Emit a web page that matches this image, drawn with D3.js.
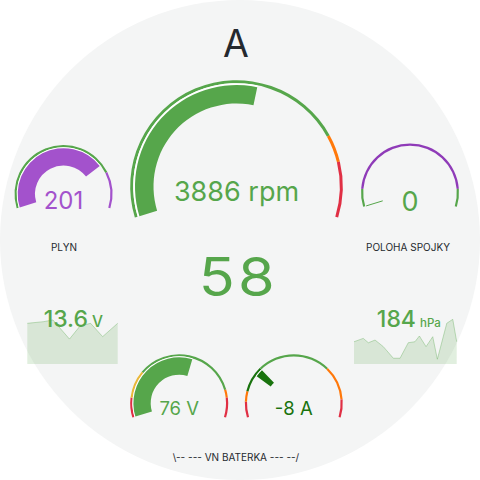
<!DOCTYPE html>
<html><head><meta charset="utf-8">
<script src="https://cdn.jsdelivr.net/npm/d3@7"></script>
<style>html,body{margin:0;padding:0;background:#fff;} svg{display:block;font-family:Inter,"Noto Sans",sans-serif;}</style>
</head><body><svg id="chart" width="480" height="480"></svg>
<script>
// ---------------- data ----------------
const titleText = "A";
const centerStatValue = 58;

const rpmValue = 3886, rpmUnit = "rpm";
const rpmRange = [0, 7000];
const rpmThresholds = [0, 5500, 6000];
const rpmColors = ["#56a64b", "#ff780a", "#e02f44"];

const plynLabel = "PLYN", plynValue = 201;
const plynRange = [0, 270];
const plynThresholds = [0, 215];
const plynColors = ["#56a64b", "#a352cc"];

const spojkaLabel = "POLOHA SPOJKY", spojkaValue = 0;
const spojkaRange = [0, 100];
const spojkaThresholds = [0, 10, 90];
const spojkaColors = ["#56a64b", "#8f3bb8", "#56a64b"];

const voltValue = 76, voltUnit = "V";
const voltRange = [50, 95];
const voltThresholds = [50, 55, 62, 88, 90];
const voltColors = ["#e02f44", "#eab839", "#56a64b", "#ff780a", "#e02f44"];

const ampValue = -8, ampUnit = "A";
const ampRange = [-50, 120];
const ampThresholds = [-50, -35, -25, 0, 70, 103];
const ampColors = ["#e02f44", "#ff780a", "#19730e", "#56a64b", "#ff780a", "#e02f44"];

const batteryLabel = "\\-- --- VN BATERKA --- --/";

const lvValue = 13.6, lvUnit = "V";
const lvTimes  = [0, 11, 17, 28, 35, 42, 50, 60];
const lvValues = [13.58, 13.65, 13.72, 12.93, 13.47, 13.58, 13.03, 13.58];

const presValue = 184, presUnit = "hPa";
const presTimes  = [0, 5.4, 8.4, 12.3, 17.1, 23, 26.9, 31.7, 35.6, 38.2, 42.1, 46, 48.7, 54.2, 57.7, 60];
const presValues = [183.9, 186.3, 183.2, 185.1, 180.4, 172.1, 172.1, 183.2, 183.9, 188.0, 180.4, 187.5, 171.4, 197.1, 199.9, 183.9];

// ---------------- drawing ----------------
const svg = d3.select("#chart");
const TEXT = "#24292e";
const SWEEP = 107 * Math.PI / 180;

svg.append("circle").attr("cx", 240).attr("cy", 240).attr("r", 240).attr("fill", "#f4f5f5");

svg.append("text").attr("x", 236).attr("y", 56.5).attr("text-anchor", "middle")
  .attr("font-size", 37.5).attr("fill", TEXT).text(titleText);

function drawGauge(cfg) {
  const g = svg.append("g").attr("transform", `translate(${cfg.cx},${cfg.cy})`);
  const ang = d3.scaleLinear().domain(cfg.range).range([-SWEEP, SWEEP]).clamp(true);
  const arc = d3.arc();
  const r = cfg.r;
  cfg.thresholds.forEach((t, i) => {
    const from = Math.max(t, cfg.range[0]);
    const to = i + 1 < cfg.thresholds.length ? cfg.thresholds[i + 1] : cfg.range[1];
    g.append("path")
      .attr("d", arc({innerRadius: r.thinIn, outerRadius: r.thinOut, startAngle: ang(from), endAngle: ang(to)}))
      .attr("fill", cfg.colors[i]);
  });
  const base = cfg.neutral !== undefined ? cfg.neutral : cfg.range[0];
  const s = Math.min(ang(base), ang(cfg.value)), e = Math.max(ang(base), ang(cfg.value));
  if (e - s > 0.002) {
    g.append("path")
      .attr("d", arc({innerRadius: r.barOut, outerRadius: r.thinIn, startAngle: s, endAngle: e}))
      .attr("fill", "#ffffff");
    g.append("path")
      .attr("d", arc({innerRadius: r.barIn, outerRadius: r.barOut, startAngle: s, endAngle: e}))
      .attr("fill", cfg.barColor);
  } else {
    g.append("line")
      .attr("x1", r.barIn * Math.sin(s)).attr("y1", -r.barIn * Math.cos(s))
      .attr("x2", r.barOut * Math.sin(s)).attr("y2", -r.barOut * Math.cos(s))
      .attr("stroke", cfg.barColor).attr("stroke-width", 1);
  }
  g.append("text").attr("x", cfg.textDx || 0).attr("y", cfg.textDy)
    .attr("text-anchor", "middle").attr("font-size", cfg.fontSize)
    .attr("fill", cfg.textColor).text(cfg.text);
}

const bigR = {barIn: 83, barOut: 101.5, thinIn: 103.3, thinOut: 106.3};
const smallR = {barIn: 28.5, barOut: 45.8, thinIn: 46.8, thinOut: 49};

drawGauge({cx: 236.5, cy: 186.5, r: bigR, range: rpmRange, value: rpmValue,
  thresholds: rpmThresholds, colors: rpmColors, barColor: "#56a64b",
  text: `${rpmValue} ${rpmUnit}`, textDy: 14.5, fontSize: 27, textColor: "#56a64b"});

drawGauge({cx: 63.5, cy: 194, r: smallR, range: plynRange, value: plynValue,
  thresholds: plynThresholds, colors: plynColors, barColor: "#a352cc",
  text: `${plynValue}`, textDy: 15, fontSize: 24, textColor: "#a352cc"});

drawGauge({cx: 410, cy: 192.5, r: smallR, range: spojkaRange, value: spojkaValue,
  thresholds: spojkaThresholds, colors: spojkaColors, barColor: "#56a64b",
  text: `${spojkaValue}`, textDy: 18, fontSize: 27, textColor: "#56a64b"});

drawGauge({cx: 179.2, cy: 403.2, r: smallR, range: voltRange, value: voltValue,
  thresholds: voltThresholds, colors: voltColors, barColor: "#56a64b",
  text: `${voltValue} ${voltUnit}`, textDy: 11.8, fontSize: 18.5, textColor: "#56a64b"});

drawGauge({cx: 293.8, cy: 403.2, r: smallR, range: ampRange, value: ampValue, neutral: 0,
  thresholds: ampThresholds, colors: ampColors, barColor: "#19730e",
  text: `${ampValue} ${ampUnit}`, textDy: 11.8, fontSize: 18.5, textColor: "#19730e"});

// labels
function label(x, y, t) {
  svg.append("text").attr("x", x).attr("y", y).attr("text-anchor", "middle")
    .attr("font-size", 10).attr("fill", TEXT).text(t);
}
label(64, 250.7, plynLabel);
label(408, 250.7, spojkaLabel);
label(236, 460.7, batteryLabel);

// big stat
svg.append("text").attr("transform", "translate(238.4,296) scale(1.12,1)")
  .attr("text-anchor", "middle").attr("font-size", 53).attr("letter-spacing", 3)
  .attr("fill", "#56a64b").text(centerStatValue);

// sparklines
function sparkline(cfg) {
  const x = d3.scaleLinear().domain(d3.extent(cfg.times)).range([cfg.x0, cfg.x1]);
  const y = d3.scaleLinear().domain(cfg.domain).range([cfg.bottom, cfg.top]);
  const pts = cfg.times.map((t, i) => [t, cfg.values[i]]);
  svg.append("path").attr("d", d3.area().x(d => x(d[0])).y0(cfg.bottom).y1(d => y(d[1]))(pts))
    .attr("fill", "#56a64b").attr("fill-opacity", 0.18);
  svg.append("path").attr("d", d3.line().x(d => x(d[0])).y(d => y(d[1]))(pts))
    .attr("fill", "none").attr("stroke", "#56a64b").attr("stroke-opacity", 0.35).attr("stroke-width", 1);
  const t = svg.append("text").attr("x", cfg.tx).attr("y", cfg.ty).attr("text-anchor", "middle")
    .attr("fill", "#56a64b").attr("font-weight", 500);
  t.append("tspan").attr("font-size", 23).text(cfg.value);
  t.append("tspan").attr("font-size", cfg.unitSize).attr("dx", 4).text(cfg.unit);
}
sparkline({times: lvTimes, values: lvValues, domain: [11.9, 13.8], x0: 27.3, x1: 117.7,
  bottom: 364, top: 318, value: lvValue.toFixed(1), unit: lvUnit, unitSize: 15.5, tx: 73.3, ty: 327.3});
sparkline({times: presTimes, values: presValues, domain: [168, 202], x0: 354, x1: 456.7,
  bottom: 364, top: 316.4, value: presValue, unit: presUnit, unitSize: 11.5, tx: 408.8, ty: 327.3});
</script></body></html>
